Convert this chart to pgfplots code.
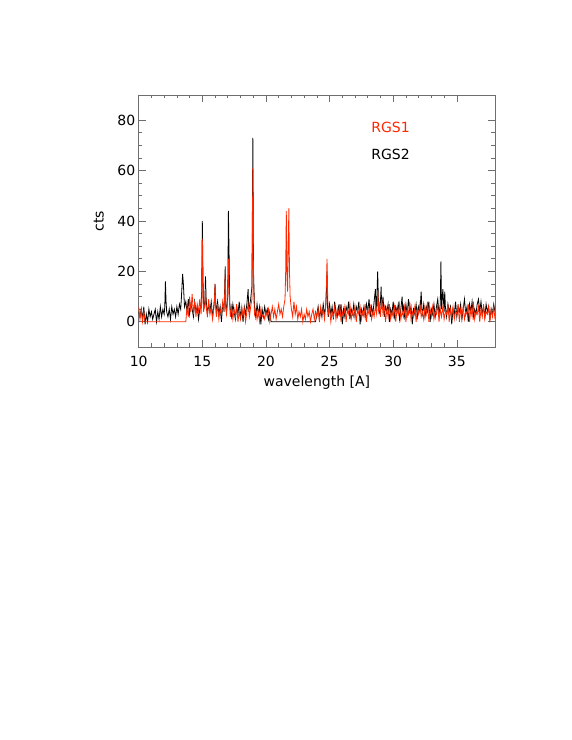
\documentclass[border=0pt]{standalone}
\usepackage{pgfplots}
\pgfplotsset{compat=1.18}
\usepackage{fontspec}
\setmainfont{DejaVu Sans}
\definecolor{rgsred}{RGB}{255,40,0}
\definecolor{boxgray}{RGB}{110,110,110}

\begin{document}
\begin{tikzpicture}
\path[use as bounding box, fill=white] (0pt,0pt) rectangle (572pt,740pt);
\begin{axis}[
  at={(138.7pt,393pt)}, anchor=south west,
  width=356.3pt, height=252pt, scale only axis,
  xmin=10, xmax=38, ymin=-10, ymax=90,
  xtick={10,15,...,35}, minor x tick num=4,
  ytick={0,20,...,80}, minor y tick num=3,
  tick align=inside,
  major tick length=7pt, minor tick length=3.5pt,
  axis line style={boxgray, line width=0.6pt},
  every tick/.style={boxgray, line width=0.6pt},
  /pgf/number format/assume math mode=true,
  ticklabel style={font=\fontsize{14}{14}\selectfont},
  xticklabel style={yshift=-6pt},
  xlabel={wavelength [A]}, ylabel={cts},
  label style={font=\fontsize{14}{14}\selectfont},
  xlabel style={at={(axis description cs:0.5,0)}, anchor=center, yshift=-35.7pt},
  ylabel style={at={(axis description cs:0,0.5)}, anchor=center, yshift=40pt},
  clip=true,
]
% RGS2
\addplot[black, line width=0.8pt] coordinates {
(10.0,4) (10.1,2) (10.2,5) (10.3,1) (10.4,6) (10.5,-1) (10.6,3) (10.7,0) (10.8,5) (10.9,2)
(11.0,4) (11.1,1) (11.2,3) (11.3,5) (11.4,0) (11.5,4) (11.6,1) (11.7,6) (11.8,2) (11.9,5)
(12.0,3) (12.05,6) (12.1,16) (12.15,8) (12.2,4) (12.3,2) (12.4,5) (12.5,1) (12.6,6) (12.7,3)
(12.8,5) (12.9,2) (13.0,6) (13.1,3) (13.2,7) (13.3,5) (13.35,9) (13.4,14) (13.45,19) (13.5,16)
(13.55,11) (13.6,6) (13.7,8) (13.8,4) (13.9,9) (14.0,3) (14.1,7) (14.2,5) (14.3,2) (14.4,8)
(14.5,4) (14.6,6) (14.7,1) (14.8,5) (14.9,7) (14.95,12) (15.0,40) (15.05,18) (15.1,5) (15.2,8)
(15.25,18) (15.3,9) (15.4,3) (15.5,7) (15.6,4) (15.7,8) (15.8,2) (15.9,6) (15.95,9) (16.0,15)
(16.05,7) (16.1,4) (16.2,8) (16.3,3) (16.4,6) (16.5,0) (16.6,7) (16.7,5) (16.75,12) (16.8,22)
(16.85,6) (16.9,4) (17.0,10) (17.05,44) (17.1,28) (17.15,8) (17.2,5) (17.3,2) (17.4,7) (17.5,4)
(17.6,1) (17.7,6) (17.8,3) (17.9,8) (18.0,2) (18.1,5) (18.2,0) (18.3,6) (18.4,3) (18.5,7)
(18.6,13) (18.65,4) (18.7,6) (18.8,9) (18.9,14) (18.97,73) (19.02,20) (19.1,6) (19.2,2) (19.3,7)
(19.4,3) (19.5,6) (19.6,-1) (19.7,5) (19.8,2) (19.9,6) (20.0,3) (20.1,5) (20.2,1) (20.3,4)
(20.4,0) (23.9,0) (24.0,3) (24.1,6) (24.2,1) (24.3,5) (24.4,2) (24.5,7) (24.6,3) (24.7,6)
(24.75,12) (24.8,20) (24.85,5) (24.9,2) (25.0,7) (25.1,3) (25.2,6) (25.3,1) (25.4,8) (25.5,4)
(25.6,2) (25.7,6) (25.8,3) (25.9,7) (26.0,-1) (26.1,5) (26.2,2) (26.3,6) (26.4,4) (26.5,8)
(26.6,1) (26.7,5) (26.8,3) (26.9,7) (27.0,2) (27.1,6) (27.2,4) (27.3,8) (27.4,-1) (27.5,5)
(27.6,3) (27.7,6) (27.8,2) (27.9,7) (28.0,4) (28.1,9) (28.2,2) (28.3,6) (28.4,3) (28.5,8)
(28.6,13) (28.65,5) (28.7,7) (28.78,20) (28.85,6) (28.9,3) (29.0,8) (29.05,14) (29.1,5) (29.2,10)
(29.3,2) (29.4,6) (29.5,4) (29.6,7) (29.7,0) (29.8,5) (29.9,3) (30.0,8) (30.1,2) (30.2,6)
(30.3,4) (30.4,7) (30.5,1) (30.6,5) (30.7,10) (30.75,4) (30.8,6) (30.9,2) (31.0,7) (31.1,3)
(31.2,9) (31.3,4) (31.4,6) (31.5,-1) (31.6,5) (31.7,3) (31.8,7) (31.9,2) (32.0,6) (32.1,4)
(32.2,12) (32.25,5) (32.3,3) (32.4,7) (32.5,2) (32.6,6) (32.7,4) (32.8,8) (32.9,0) (33.0,5)
(33.1,3) (33.2,7) (33.3,2) (33.4,6) (33.5,9) (33.6,3) (33.7,7) (33.75,24) (33.8,5) (33.9,13)
(34.0,4) (34.05,12) (34.1,6) (34.2,2) (34.3,7) (34.4,4) (34.5,6) (34.6,-1) (34.7,5) (34.8,3)
(34.9,8) (35.0,2) (35.1,6) (35.2,4) (35.3,7) (35.4,1) (35.5,5) (35.6,9) (35.7,3) (35.8,6)
(35.9,0) (36.0,7) (36.1,4) (36.2,8) (36.3,2) (36.4,5) (36.5,3) (36.6,7) (36.7,9) (36.8,4)
(36.9,8) (37.0,3) (37.1,6) (37.2,2) (37.3,7) (37.4,4) (37.5,6) (37.6,1) (37.7,5) (37.8,3)
(37.9,7) (38.0,4)
};
% RGS1
\addplot[rgsred, line width=0.8pt] coordinates {
(10.0,6) (10.1,1) (10.2,5) (10.3,0) (10.4,4) (10.5,0) (13.7,0) (13.8,6) (13.9,2) (14.0,10)
(14.1,4) (14.2,11) (14.3,3) (14.4,8) (14.5,2) (14.6,7) (14.7,4) (14.8,9) (14.9,3) (14.95,8)
(15.0,33) (15.05,12) (15.1,4) (15.2,7) (15.25,13) (15.3,6) (15.4,2) (15.5,9) (15.6,3) (15.7,6)
(15.8,1) (15.9,5) (15.95,8) (16.0,15) (16.05,6) (16.1,2) (16.2,7) (16.3,1) (16.4,5) (16.5,3)
(16.6,8) (16.7,4) (16.75,10) (16.8,19) (16.85,5) (16.9,3) (17.0,9) (17.05,25) (17.1,15) (17.15,6)
(17.2,2) (17.3,6) (17.4,1) (17.5,5) (17.6,2) (17.7,7) (17.8,0) (17.9,4) (18.0,1) (18.1,6)
(18.2,2) (18.3,5) (18.4,0) (18.5,4) (18.6,7) (18.7,2) (18.8,6) (18.9,9) (18.97,61) (19.02,15)
(19.1,3) (19.2,5) (19.3,1) (19.4,4) (19.5,0) (19.6,5) (19.7,2) (19.8,3) (19.9,1) (20.0,4)
(20.1,2) (20.2,5) (20.3,0) (20.4,3) (20.5,6) (20.6,2) (20.7,5) (20.8,1) (20.9,4) (21.0,7)
(21.1,3) (21.2,5) (21.3,2) (21.4,6) (21.5,9) (21.55,20) (21.6,44) (21.65,18) (21.7,12) (21.75,30)
(21.8,45) (21.85,20) (21.9,10) (22.0,5) (22.1,2) (22.2,8) (22.3,3) (22.4,6) (22.5,1) (22.6,4)
(22.7,2) (22.8,5) (22.9,0) (23.0,3) (23.1,1) (23.2,5) (23.3,2) (23.4,4) (23.5,0) (23.6,3)
(23.7,5) (23.8,1) (23.9,4) (24.0,2) (24.1,5) (24.2,0) (24.3,6) (24.4,3) (24.5,5) (24.6,1)
(24.7,7) (24.75,14) (24.8,25) (24.85,10) (24.9,3) (25.0,5) (25.1,0) (25.2,4) (25.3,2) (25.4,6)
(25.5,1) (25.6,5) (25.7,3) (25.8,7) (25.9,0) (26.0,4) (26.1,2) (26.2,6) (26.3,0) (26.4,5)
(26.5,3) (26.6,7) (26.7,1) (26.8,4) (26.9,2) (27.0,6) (27.1,0) (27.2,5) (27.3,3) (27.4,6)
(27.5,1) (27.6,4) (27.7,2) (27.8,7) (27.9,0) (28.0,5) (28.1,3) (28.2,6) (28.3,1) (28.4,4)
(28.5,2) (28.6,6) (28.7,3) (28.8,12) (28.85,4) (28.9,8) (29.0,2) (29.1,9) (29.2,3) (29.3,6)
(29.4,0) (29.5,5) (29.6,2) (29.7,7) (29.8,1) (29.9,4) (30.0,2) (30.1,6) (30.2,0) (30.3,5)
(30.4,3) (30.5,7) (30.6,1) (30.7,4) (30.8,2) (30.9,6) (31.0,0) (31.1,5) (31.2,3) (31.3,8)
(31.4,1) (31.5,4) (31.6,2) (31.7,6) (31.8,0) (31.9,5) (32.0,3) (32.1,7) (32.2,2) (32.3,4)
(32.4,1) (32.5,6) (32.6,3) (32.7,8) (32.8,0) (32.9,5) (33.0,2) (33.1,6) (33.2,1) (33.3,4)
(33.4,3) (33.5,7) (33.6,0) (33.7,5) (33.8,2) (33.9,6) (34.0,1) (34.1,4) (34.2,3) (34.3,7)
(34.4,0) (34.5,5) (34.6,2) (34.7,6) (34.8,1) (34.9,4) (35.0,3) (35.1,7) (35.2,0) (35.3,5)
(35.4,2) (35.5,6) (35.6,1) (35.7,4) (35.8,3) (35.9,7) (36.0,0) (36.1,5) (36.2,2) (36.3,8)
(36.4,1) (36.5,4) (36.6,3) (36.7,6) (36.8,0) (36.9,5) (37.0,2) (37.1,7) (37.2,1) (37.3,4)
(37.4,3) (37.5,6) (37.6,0) (37.7,5) (37.8,2) (37.9,6) (38.0,1)
};
\node[anchor=west, text=rgsred, font=\fontsize{14}{14}\selectfont] at (axis cs:28,77.3) {RGS1};
\node[anchor=west, text=black, font=\fontsize{14}{14}\selectfont] at (axis cs:28,66.6) {RGS2};
\end{axis}
\end{tikzpicture}
\end{document}
